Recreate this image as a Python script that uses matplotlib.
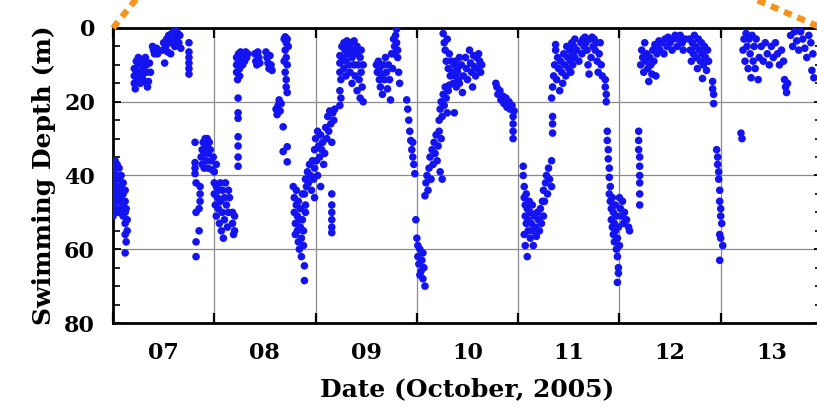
import matplotlib
matplotlib.use("Agg")
import matplotlib.pyplot as plt
from matplotlib.lines import Line2D
import numpy as np

# ---- data: (day of October 2005, swimming depth in m) ----
day07 = [
    (7.00,36),(7.00,39),(7.00,42),(7.00,45),(7.00,48),(7.00,51),
    (7.02,36),(7.02,38),(7.02,41),(7.02,44),(7.02,47),(7.02,50),
    (7.04,37),(7.04,40),(7.04,43),(7.04,46),(7.04,49),
    (7.06,38),(7.06,41),(7.06,44),(7.06,47),(7.06,50),
    (7.08,40),(7.08,43),(7.08,46),(7.08,49),
    (7.10,42),(7.10,45),(7.10,48),(7.10,51),
    (7.12,44),(7.12,47),(7.12,50),(7.12,53),
    (7.13,49),(7.14,52),(7.14,55),(7.12,56),(7.13,58),(7.12,61),
    (7.21,15),(7.21,13),(7.21,11),(7.22,16.5),(7.23,9),(7.23,12),(7.24,14),(7.25,8),
    (7.25,10),(7.26,12),(7.27,8.5),(7.27,15),(7.28,10),(7.29,13),(7.30,9),(7.30,11),
    (7.31,14.5),(7.32,8),(7.33,10),(7.33,12),(7.35,14.5),(7.36,9.5),(7.37,12),(7.34,16),
    (7.39,5),(7.40,6),(7.41,7),(7.43,5.5),(7.44,7),
    (7.49,6),(7.50,4),(7.51,9.5),(7.52,5),(7.53,3),(7.54,6.5),(7.55,2),(7.56,4),(7.57,7),
    (7.58,1.5),(7.59,3.5),(7.60,1),(7.61,5),(7.62,0.5),(7.63,2.5),(7.64,1.5),(7.65,4),
    (7.66,2),(7.67,5.5),
    (7.75,4),(7.75,6.5),(7.75,8),(7.75,9.5),(7.75,11),(7.75,12.5),
    (7.81,31),(7.81,36.5),(7.81,38),(7.81,39.5),(7.82,42),(7.82,50),(7.85,55),(7.82,58),(7.82,62),
    (7.86,43),(7.86,45),(7.86,47),(7.85,49),
    (7.87,35),(7.88,33),(7.88,37),(7.89,31),(7.90,34),(7.90,38),(7.91,30),(7.92,32),
    (7.92,36),(7.93,30),(7.94,34),(7.94,38),(7.95,31),(7.96,33),(7.97,36),(7.98,38.5),
    (7.99,35),(8.00,39),(8.02,37),
]
day08 = [
    (8.00,42),(8.00,45),(8.01,48),(8.02,43),(8.02,51),(8.03,46),(8.04,44),(8.04,49),
    (8.05,53),(8.06,42),(8.06,47),(8.07,55),(8.08,44),(8.08,50),(8.09,57),(8.10,46),
    (8.10,52),(8.11,42),(8.12,48),(8.13,54),(8.14,44),(8.14,50),(8.15,46),(8.18,50),
    (8.18,53),(8.19,56),(8.20,51),(8.20,55),
    (8.22,8),(8.22,10),(8.22,12),(8.23,14),(8.24,7),(8.24,9),(8.25,11),(8.25,13),
    (8.26,6.5),(8.27,8.5),(8.28,10),(8.29,7),(8.30,9),(8.31,6.5),(8.32,8),(8.33,7),
    (8.235,19),(8.235,23),(8.235,24.5),(8.235,29.5),(8.235,32),(8.235,35),(8.235,37.5),
    (8.40,7),(8.41,9),(8.42,10),(8.43,6.5),(8.44,8),(8.45,9.5),
    (8.51,6.5),(8.52,8),(8.53,9.5),(8.54,11),(8.55,7.5),(8.56,10),(8.57,11.5),
    (8.61,22),(8.62,23.5),(8.63,21),(8.64,19.5),(8.65,22.5),(8.66,20.5),
    (8.68,26.8),(8.68,33.5),(8.72,32.2),(8.72,36.3),
    (8.69,3),(8.70,2.4),(8.71,4),(8.72,3),(8.73,5),(8.70,6),(8.71,8),(8.72,10),
    (8.70,12),(8.71,14),(8.71,16),(8.72,17.5),(8.69,9),
    (8.78,43),(8.79,46),(8.79,50),(8.80,53),(8.80,56),(8.81,44),(8.81,48),(8.82,51),
    (8.82,55),(8.83,58),(8.83,47),(8.84,52),(8.84,60),(8.85,54),(8.85,49),(8.86,57),
    (8.86,62),(8.87,45),(8.87,52),(8.88,55),(8.88,59),(8.89,64.5),(8.89,68.5),(8.90,50),(8.90,48),
    (8.89,45),(8.90,41),(8.91,43),(8.92,39),(8.93,42),(8.94,37),(8.95,40),(8.96,44),
    (8.97,36),(8.98,41),(8.99,38),(8.99,46),
    (8.99,33),(9.00,30),
]
day09 = [
    (9.01,36),(9.02,28),(9.03,32),(9.04,35),(9.05,29),(9.06,33),(9.07,31),(9.08,37),
    (9.09,34),(9.02,40),(9.05,43),
    (9.10,27),(9.11,30),(9.12,24),(9.13,28),(9.14,22.5),(9.15,26),(9.16,31),(9.17,23),
    (9.18,25),(9.19,22),
    (9.16,45),(9.16,48),(9.16,50),(9.16,52),(9.16,54),(9.16,55.5),
    (9.24,7.5),(9.24,12),(9.24,17),(9.24,21),
    (9.24,9.5),(9.25,14),(9.25,19),(9.26,5),(9.27,8),(9.28,11),(9.28,4),(9.29,6),
    (9.30,9),(9.30,13),(9.31,3.5),(9.32,7),(9.33,10),(9.33,5),(9.34,12),(9.35,4),
    (9.36,8),(9.36,15),(9.37,6),(9.38,10),(9.38,3.5),(9.39,13),(9.40,7),(9.41,5),
    (9.41,17),(9.42,10),(9.43,14),(9.44,8),(9.44,19),(9.45,12),(9.46,16),(9.47,20),
    (9.45,6),(9.47,10),
    (9.60,10),(9.61,12),(9.62,9),(9.63,14),(9.63,11),(9.64,16),(9.65,12.5),(9.66,18),
    (9.67,10),(9.68,14),(9.69,8),(9.70,12),(9.71,16.5),(9.72,10),(9.73,14),(9.74,19.5),
    (9.75,7),(9.76,11),(9.77,3),(9.78,5),(9.79,2),(9.80,4),(9.81,8),(9.82,12),(9.83,15),
    (9.80,0.3),(9.78,7),(9.81,6),
    (9.90,19.5),(9.91,22),(9.92,25),(9.93,28),(9.94,30.5),(9.95,33),(9.96,35),(9.97,37),
    (9.98,39.5),(9.96,31),
    (9.99,52),
]
day10 = [
    (10.00,57),(10.01,59),(10.01,62),(10.02,64),(10.03,60),(10.04,66),(10.05,63),
    (10.06,68),(10.06,61),(10.07,65),(10.08,70),(10.03,67),
    (10.08,45.5),(10.09,42),(10.10,40),(10.11,44),(10.12,38),(10.13,35),(10.14,41),
    (10.15,33),(10.16,37),(10.17,31),(10.18,34),(10.19,29),(10.20,36),(10.21,32),
    (10.22,28),(10.23,39),(10.24,30),(10.25,41),
    (10.22,25),(10.23,22),(10.24,20),(10.25,24),(10.26,18),(10.27,21),(10.28,16),
    (10.29,19),(10.30,23),(10.31,17),(10.32,15.5),
    (10.26,1.5),(10.27,4),(10.28,6),(10.29,9),(10.30,3),(10.31,11),(10.32,7),(10.33,13),
    (10.34,9),(10.35,12),(10.36,15),(10.37,10),(10.38,13),(10.39,16),(10.40,11),
    (10.41,14),(10.42,8),
    (10.38,9),(10.40,12),(10.42,15),(10.44,10),(10.45,17.5),(10.46,13),(10.48,8),
    (10.49,11),(10.50,14),(10.52,6),(10.53,9.5),(10.54,12),(10.55,16),(10.56,7.5),
    (10.57,10.5),(10.58,13),(10.59,8),(10.60,11),(10.61,7),(10.62,9),(10.63,12),(10.64,10),
    (10.37,23),
    (10.79,16),(10.80,18),(10.82,17),(10.83,19.5),(10.85,18.5),(10.86,20.5),(10.88,19),
    (10.89,21.5),(10.91,20),(10.92,22),(10.94,21),(10.96,22.5),(10.78,15),
    (10.95,24),(10.95,26),(10.95,28),(10.95,30),
]
day11 = [
    (11.05,37.5),(11.05,40),(11.06,43),(11.06,46),(11.07,48),(11.07,51),(11.08,53),
    (11.08,45),(11.09,49),(11.10,55),(11.10,52),(11.11,47),(11.12,50),(11.12,57),
    (11.13,53),(11.14,48),(11.14,55),(11.15,59),(11.16,51),(11.17,54),(11.18,56.5),
    (11.19,50),(11.20,52),(11.21,55),(11.22,49),(11.23,53),(11.24,47),(11.25,51),
    (11.06,56),(11.07,59),(11.09,62),
    (11.25,44),(11.26,47),(11.27,42),(11.28,40),(11.29,45),(11.30,38),(11.31,41),
    (11.33,36),(11.33,43),(11.34,24),(11.34,26),(11.34,28.5),
    (11.33,19),(11.34,16),(11.35,13),(11.36,10),(11.37,6),(11.37,4.5),(11.38,14),
    (11.39,8),(11.40,11),(11.41,17),(11.42,9),(11.43,12),(11.44,15),(11.45,7),
    (11.46,10),(11.47,13),(11.48,5),(11.49,8),(11.50,11),(11.51,6),(11.52,9),(11.53,4),
    (11.54,7),(11.55,5),(11.56,3),
    (11.52,12),(11.54,10),(11.56,8),(11.58,6),(11.60,9),(11.62,4),(11.63,7),(11.64,3),
    (11.65,5),(11.66,2.5),(11.67,4),(11.68,6),(11.69,10),(11.70,12.5),(11.71,3),
    (11.72,8),(11.73,2.5),(11.74,5),(11.75,3),(11.76,6),(11.77,4),(11.78,9),(11.79,12),
    (11.80,7),(11.81,4),(11.82,10),(11.83,13),
    (11.86,14),(11.86,16),(11.87,18),(11.87,20),
    (11.88,28),(11.88,30.5),(11.89,33),(11.89,35.5),(11.90,38),(11.90,40.5),(11.91,43),
    (11.90,45),(11.91,47),(11.92,49),(11.92,52),(11.93,54),(11.93,46),(11.94,50),
    (11.94,56),(11.95,53),(11.95,58),(11.96,48),(11.96,55),(11.97,60),(11.97,51),
    (11.98,57),(11.98,62),(11.99,54),(11.99,65),(12.00,59),(11.98,69),(11.99,66.5),
]
day12 = [
    (12.00,46),(12.01,49),(12.02,51),(12.03,47),(12.04,53),(12.05,50),(12.07,52),
    (12.09,54),(12.10,55),
    (12.19,28),(12.19,30.5),(12.19,33),(12.20,35),(12.20,37.5),(12.20,40),(12.20,42),
    (12.20,45),(12.20,48),
    (12.21,10),(12.22,6),(12.23,8),(12.24,12),(12.25,4),(12.26,9),(12.27,7),(12.28,11),
    (12.29,14.5),(12.30,8),(12.31,10),(12.32,12.5),(12.33,6),(12.34,9),(12.35,4.5),
    (12.36,13),(12.37,7),(12.38,5),(12.39,3.5),
    (12.40,6),(12.42,4),(12.44,7),(12.45,3),(12.47,5),(12.48,2.5),(12.50,4),(12.52,6),
    (12.53,3),(12.55,2),(12.57,5),(12.58,3),(12.60,2),(12.62,4),(12.63,6),(12.65,3),
    (12.69,3),(12.70,6),(12.71,9),(12.72,4),(12.73,7),(12.74,2),(12.75,5),(12.76,8),
    (12.77,11),(12.78,3),(12.79,6),(12.80,9),(12.81,4),(12.82,7),(12.83,10),(12.84,5),
    (12.85,8),(12.86,11.5),(12.87,6),(12.88,9),(12.82,13.7),
    (12.92,14.5),(12.92,16.5),(12.93,18),(12.93,20.5),
    (12.96,33),(12.97,35),(12.97,37),(12.98,39),(12.98,41),(12.99,44),(12.99,47),
    (13.00,49),(13.00,51),
]
day13 = [
    (13.01,53),(12.99,56),(13.00,57),(13.02,59),(12.99,63),
    (13.20,28.5),(13.21,30),
    (13.22,6),(13.23,3),(13.24,9),(13.25,1.5),(13.26,5),(13.27,11),(13.28,3),(13.29,7),
    (13.30,13.5),(13.31,2),(13.32,9),(13.33,5),(13.34,11),(13.35,3),
    (13.37,14),(13.38,8),(13.40,5),(13.42,9),(13.44,4),(13.46,7),(13.48,10),(13.50,5),
    (13.52,8),(13.54,4),(13.56,7),(13.58,10),(13.60,6),(13.62,9),
    (13.63,14),(13.64,16),(13.65,17.5),(13.66,15),
    (13.69,2),(13.71,5),(13.73,1),(13.75,3.5),(13.77,6),(13.79,1),(13.81,3),(13.83,5.5),
    (13.85,8),(13.87,2),(13.89,4),(13.91,7),
    (13.90,11.5),(13.92,13.5),
]

day_labels = ["07", "08", "09", "10", "11", "12", "13"]
day_starts = [7, 8, 9, 10, 11, 12, 13, 14]
depth_ticks = [0, 20, 40, 60, 80]

# ---- figure ----
W, H = 817, 411
fig = plt.figure(figsize=(W / 100, H / 100), dpi=100)
fig.patch.set_facecolor("white")
L, R, T, B = 113, 822, 28, 323
ax = fig.add_axes([L / W, 1 - B / H, (R - L) / W, (B - T) / H])

pts = np.array(day07 + day08 + day09 + day10 + day11 + day12 + day13)
ax.scatter(pts[:, 0], pts[:, 1], s=30, color="#1414f0", edgecolors="none", zorder=3)

ax.set_xlim(day_starts[0], day_starts[-1])
ax.set_ylim(80, 0)

font = dict(family="DejaVu Serif", weight="bold")

ax.set_yticks(depth_ticks)
ax.set_yticklabels([str(v) for v in depth_ticks], fontsize=16, **font)
ax.set_yticks(np.arange(0, 81, 5), minor=True)
ax.set_xticks(day_starts)
ax.set_xticklabels([])
mids = [d + 0.5 for d in day_starts[:-1]]
ax.set_xticks(mids, minor=True)
ax.set_xticklabels(day_labels, minor=True, fontsize=16, **font)

ax.tick_params(axis="both", which="both", direction="in", top=True, right=True)
ax.tick_params(axis="y", which="major", length=6, width=1.3, pad=13)
ax.tick_params(axis="y", which="minor", length=5, width=1.2)
ax.tick_params(axis="x", which="major", length=7, width=1.6)
ax.tick_params(axis="x", which="minor", length=0, pad=14)

ax.grid(True, which="major", color="#8a8a8a", linewidth=0.9, zorder=0)
ax.set_axisbelow(True)
for sp in ax.spines.values():
    sp.set_linewidth(2.0)

ax.set_xlabel("Date (October, 2005)", fontsize=18, labelpad=9, **font)
ax.set_ylabel("Swimming Depth (m)", fontsize=18, labelpad=6, **font)

# orange dotted zoom-connector lines
orange = "#f7941d"
def fig_line(x0, y0, x1, y1):
    ln = Line2D([x0 / W, x1 / W], [1 - y0 / H, 1 - y1 / H], transform=fig.transFigure,
                color=orange, linewidth=4.5, linestyle=(0, (1.3, 1.0)),
                solid_capstyle="butt", dash_capstyle="butt", zorder=10, clip_on=False)
    fig.add_artist(ln)
fig_line(113, 28, 113 + 24 * 2, 28 - 60)
fig_line(822, 28, 822 - 65 * 2, 28 - 56)

fig.savefig("out.png", dpi=100)
